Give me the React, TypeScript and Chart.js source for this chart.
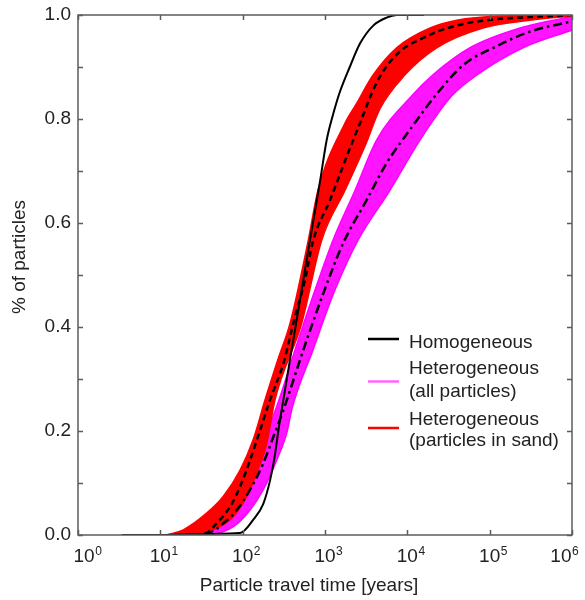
import React, { useEffect, useRef } from 'react';
import { Chart, registerables } from 'chart.js';
Chart.register(...registerables);

// ---- axis ticks ----
const X_DECADES = [1, 10, 100, 1000, 10000, 100000, 1000000];
const X_EXPONENTS = ['0', '1', '2', '3', '4', '5', '6'];
const Y_MAJOR = [0, 0.2, 0.4, 0.6, 0.8, 1.0];
const Y_LABELS = ['0.0', '0.2', '0.4', '0.6', '0.8', '1.0'];
const Y_MINOR = [0.1, 0.3, 0.5, 0.7, 0.9];

// ---- Homogeneous (black solid) ----
const homT = [3.4, 93, 134, 178, 215, 247, 271, 312, 394, 474, 571, 658, 723, 870, 1050, 1260, 1500, 2000, 2660, 3880, 5600, 7400, 16000];
const homF = [0, 0.004, 0.029, 0.06, 0.105, 0.155, 0.2, 0.26, 0.357, 0.432, 0.51, 0.567, 0.605, 0.68, 0.76, 0.81, 0.85, 0.9, 0.945, 0.98, 0.995, 1.0, 1.0];

// ---- Heterogeneous, particles in sand (red bundle envelope + mean) ----
const redLoT = [12, 19, 36.5, 58, 93, 134, 187, 271, 376, 627, 822, 1750, 2380, 3860, 7420, 18900, 39800, 133000, 1000000];
const redLoF = [0, 0.01, 0.042, 0.074, 0.125, 0.183, 0.26, 0.34, 0.407, 0.567, 0.663, 0.792, 0.828, 0.885, 0.937, 0.975, 0.99, 0.998, 1.0];
const redHiT = [12, 25, 44, 77, 112, 148, 196, 247, 521, 912, 1750, 3100, 4660, 9370, 22700, 83000, 309000, 1000000];
const redHiF = [0, 0.001, 0.01, 0.035, 0.074, 0.119, 0.176, 0.26, 0.407, 0.567, 0.663, 0.75, 0.82, 0.885, 0.937, 0.975, 0.99, 0.998];
const redMeanT = [15, 25, 36.5, 48, 70, 93, 123, 163, 215, 312, 432, 571, 721, 1150, 1835, 2660, 4240, 7420, 15500, 36000, 92000, 309000, 1000000];
const redMeanF = [0, 0.001, 0.004, 0.022, 0.054, 0.093, 0.144, 0.202, 0.26, 0.33, 0.42, 0.49, 0.567, 0.644, 0.728, 0.792, 0.87, 0.924, 0.956, 0.978, 0.99, 0.996, 1.0];

// ---- Heterogeneous, all particles (magenta bundle envelope + mean) ----
const magLoT = [20, 40, 53, 93, 141, 259, 432, 756, 1250, 2320, 4250, 11400, 20500, 57700, 234000, 1000000];
const magLoF = [0, 0.008, 0.022, 0.087, 0.144, 0.247, 0.356, 0.471, 0.567, 0.663, 0.76, 0.845, 0.885, 0.937, 0.975, 0.997];
const magHiT = [20, 40, 77, 123, 178, 259, 343, 400, 715, 1320, 2520, 6150, 14300, 34900, 70200, 254000, 1000000];
const magHiF = [0, 0.001, 0.016, 0.048, 0.087, 0.144, 0.196, 0.245, 0.356, 0.471, 0.567, 0.663, 0.76, 0.845, 0.885, 0.937, 0.971];
const magMeanT = [20, 40, 58, 85, 123, 178, 236, 312, 546, 955, 1660, 3200, 5600, 10700, 22700, 48000, 122000, 309000, 1000000];
const magMeanF = [0, 0.005, 0.022, 0.048, 0.087, 0.138, 0.189, 0.24, 0.356, 0.465, 0.561, 0.644, 0.715, 0.779, 0.848, 0.904, 0.94, 0.968, 0.988];

// ---- legend ----
const LEGEND_ITEMS = [
  { lines: ['Homogeneous'], color: '#000000' },
  { lines: ['Heterogeneous', '(all particles)'], color: '#ff66ff' },
  { lines: ['Heterogeneous', '(particles in sand)'], color: '#ff0000' },
];
const X_TITLE = 'Particle travel time [years]';
const Y_TITLE = '% of particles';

const pts = (t: number[], f: number[]) => t.map((v, i) => ({ x: v, y: f[i] }));

const FONT = "'Liberation Sans', Arial, Helvetica, sans-serif";

const decorPlugin = {
  id: 'decor',
  afterDraw(chart: any) {
    const { ctx, chartArea: a, scales } = chart;
    const xs = scales.x;
    const ys = scales.y;
    ctx.save();
    // frame
    ctx.strokeStyle = '#5c5c5c';
    ctx.lineWidth = 1.5;
    ctx.strokeRect(a.left, a.top, a.right - a.left, a.bottom - a.top);
    // ticks (inward, mirrored)
    const tl = 5;
    ctx.beginPath();
    [...Y_MAJOR, ...Y_MINOR].forEach((v) => {
      const y = Math.round(ys.getPixelForValue(v)) + 0.5;
      ctx.moveTo(a.left, y); ctx.lineTo(a.left + tl, y);
      ctx.moveTo(a.right, y); ctx.lineTo(a.right - tl, y);
    });
    X_DECADES.forEach((v) => {
      const x = Math.round(xs.getPixelForValue(v)) + 0.5;
      ctx.moveTo(x, a.bottom); ctx.lineTo(x, a.bottom - tl);
      ctx.moveTo(x, a.top); ctx.lineTo(x, a.top + tl);
    });
    ctx.stroke();
    // y tick labels
    ctx.fillStyle = '#222';
    ctx.font = `19px ${FONT}`;
    ctx.textAlign = 'right';
    ctx.textBaseline = 'middle';
    Y_MAJOR.forEach((v, i) => {
      ctx.fillText(Y_LABELS[i], a.left - 7, ys.getPixelForValue(v));
    });
    // x tick labels: "10" with superscript exponent, kept inside the canvas
    ctx.textBaseline = 'alphabetic';
    X_DECADES.forEach((v, i) => {
      const x = xs.getPixelForValue(v);
      ctx.font = `19px ${FONT}`;
      const w = ctx.measureText('10').width;
      let left = x - w / 2;
      if (i === 0) left = x - 4.5;
      if (i === X_DECADES.length - 1) left = x - w - 0.5;
      ctx.textAlign = 'left';
      ctx.fillText('10', left, a.bottom + 27);
      ctx.font = `12px ${FONT}`;
      ctx.fillText(X_EXPONENTS[i], left + w + 0.5, a.bottom + 19.5);
    });
    // axis titles
    ctx.font = `19px ${FONT}`;
    ctx.textAlign = 'center';
    ctx.fillText(X_TITLE, 309, 591);
    ctx.save();
    ctx.translate(20, 257);
    ctx.rotate(-Math.PI / 2);
    ctx.textBaseline = 'middle';
    ctx.fillText(Y_TITLE, 0, 0);
    ctx.restore();
    // legend
    const lx0 = 368, lx1 = 399, tx = 409;
    const baselines = [[347.5], [374, 396.5], [424.5, 446]];
    const lineYs = [339, 381.5, 428];
    ctx.textAlign = 'left';
    ctx.textBaseline = 'alphabetic';
    LEGEND_ITEMS.forEach((it, i) => {
      ctx.strokeStyle = it.color;
      ctx.lineWidth = 2.5;
      ctx.beginPath();
      ctx.moveTo(lx0, lineYs[i]);
      ctx.lineTo(lx1, lineYs[i]);
      ctx.stroke();
      ctx.fillStyle = '#222';
      it.lines.forEach((s, j) => ctx.fillText(s, tx, baselines[i][j]));
    });
    ctx.restore();
  },
};

export default function App() {
  const ref = useRef<HTMLCanvasElement | null>(null);
  useEffect(() => {
    if (!ref.current) return;
    const line = (data: any[], color: string, width: number, dash: number[] = [], fill: any = false, bg?: string) => ({
      data, showLine: true, borderColor: color, borderWidth: width, borderDash: dash,
      pointRadius: 0, fill, backgroundColor: bg || color, cubicInterpolationMode: 'monotone',
    });
    const chart = new Chart(ref.current, {
      type: 'scatter',
      data: {
        datasets: [
          line(pts(homT, homF), '#000000', 2),
          line(pts(redMeanT, redMeanF), '#000000', 2.5, [6, 4]),
          line(pts(magMeanT, magMeanF), '#000000', 2.5, [9, 4, 2.5, 4]),
          line(pts(redLoT, redLoF), '#ff0000', 1.5, [], '+1', '#ff0000'),
          line(pts(redHiT, redHiF), '#ff0000', 1.5),
          line(pts(magLoT, magLoF), '#ff00ff', 1.5, [], '+1', 'rgba(255,0,255,0.92)'),
          line(pts(magHiT, magHiF), '#ff00ff', 1.5),
        ] as any,
      },
      options: {
        animation: false,
        responsive: false,
        layout: { padding: { left: 78, top: 15, right: 13, bottom: 65 } },
        plugins: { legend: { display: false }, tooltip: { enabled: false } },
        scales: {
          x: { type: 'logarithmic', min: 1, max: 1000000, display: false },
          y: { type: 'linear', min: 0, max: 1, display: false },
        },
      } as any,
      plugins: [decorPlugin],
    });
    return () => chart.destroy();
  }, []);
  return (
    <div style={{ position: 'absolute', left: 0, top: 0, width: 585, height: 600, background: '#fff' }}>
      <canvas ref={ref} width={585} height={600} style={{ display: 'block' }} />
    </div>
  );
}
